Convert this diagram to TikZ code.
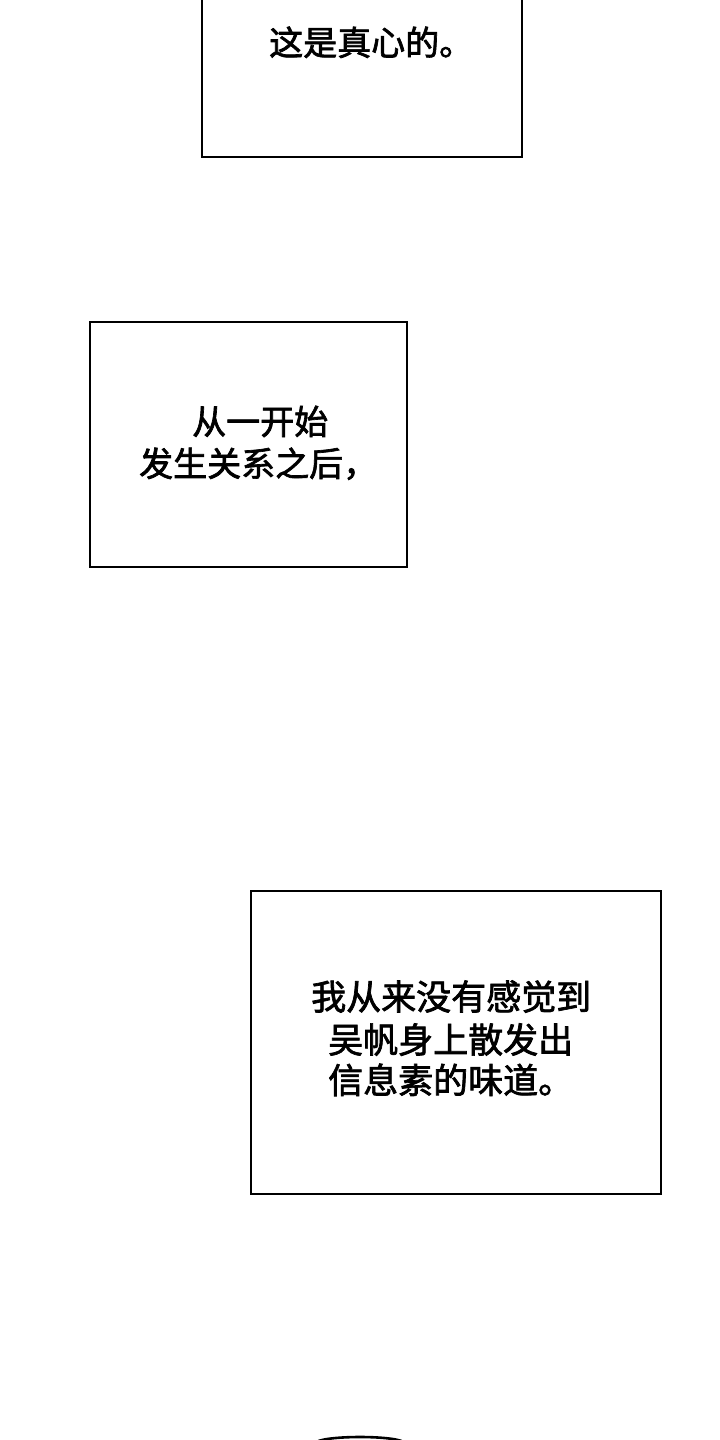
\documentclass[tikz,border=0pt]{standalone}
\usepackage{fontspec}
\newfontfamily\cjk[FakeBold=2]{Noto Sans CJK SC}
\begin{document}
\begin{tikzpicture}[x=1pt,y=-1pt,
  panel/.style={draw=black,line width=2.2pt,fill=white},
  txt/.style={anchor=west,inner sep=0pt,text height=0.88em,text depth=0.12em,font=\cjk\fontsize{34}{40}\selectfont},
  txtb/.style={txt,font=\cjk\fontsize{35}{42}\selectfont}]
\fill[white] (0,0) rectangle (720,1440);
\useasboundingbox (0,0) rectangle (720,1440);
\clip (0,0) rectangle (720,1440);
% panel 1
\draw[panel] (202,-10) rectangle (522,157);
\node[txt] (t1) at (269,51.5) {这是真心的。};
% panel 2
\draw[panel] (90,322) rectangle (407,567);
\node[txt] (t2a) at (192,430.5) {从一开始};
\node[txt] (t2b) at (139,472.5) {发生关系之后，};
% panel 3
\draw[panel] (251,891) rectangle (661,1194);
\node[txtb] (t3a) at (311,1006) {我从来没有感觉到};
\node[txtb] (t3b) at (328,1049) {吴帆身上散发出};
\node[txtb] (t3c) at (328,1089.5) {信息素的味道。};
% bottom arc
\draw[line width=2.6pt] (360,1443) ellipse [x radius=44, y radius=6];
\end{tikzpicture}
\end{document}
